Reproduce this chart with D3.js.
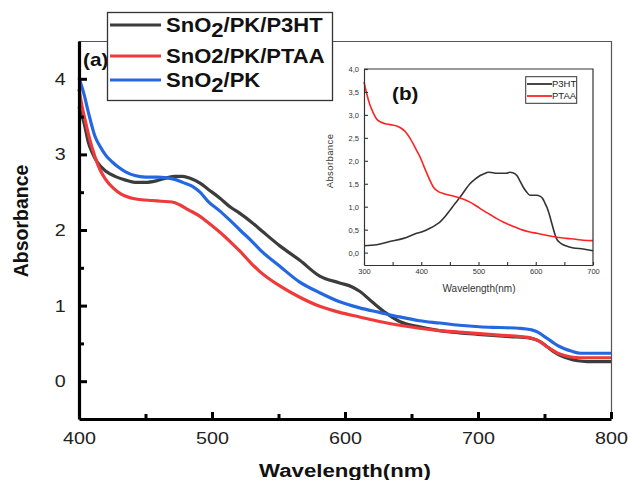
<!DOCTYPE html>
<html>
<head>
<meta charset="utf-8">
<script src="https://cdn.jsdelivr.net/npm/d3@7"></script>
<style>
  html, body { margin: 0; padding: 0; background: #fff; }
  svg { display: block; }
  text { font-family: "Liberation Sans", Arial, sans-serif; }
</style>
</head>
<body>
<svg id="chart" width="628" height="480"></svg>
<script>
// ---- main panel (a): absorbance of the three film stacks ----
const p3htWl = [400,404,407,410,414,420,427,435,442,450,458,466,472,478,484,491,497,506,514,521,530,538,551,566,581,596,605,611,621,631,641,656,671,686,700,724,739,746,751,756,762,768,775,782,800];
const p3htAbs = [3.63,3.40,3.16,3.02,2.89,2.78,2.71,2.66,2.63,2.63,2.65,2.69,2.71,2.71,2.68,2.62,2.54,2.42,2.30,2.22,2.10,1.98,1.79,1.60,1.39,1.30,1.25,1.19,1.04,0.90,0.79,0.72,0.67,0.64,0.62,0.59,0.57,0.53,0.47,0.40,0.34,0.30,0.27,0.26,0.26];

const ptaaWl = [400,402,404.5,408,412,416,420,426,432,440,447,455,462,470,476,482,491,497,506,514,521,530,536,551,566,581,596,611,626,641,656,671,686,701,716,732,740,745,750,755,760,765,770,777,800];
const ptaaAbs = [3.87,3.66,3.46,3.20,2.97,2.79,2.67,2.55,2.47,2.42,2.40,2.39,2.38,2.37,2.33,2.27,2.18,2.10,1.97,1.84,1.72,1.55,1.45,1.26,1.11,0.99,0.91,0.85,0.79,0.74,0.70,0.67,0.65,0.63,0.61,0.59,0.57,0.54,0.48,0.42,0.37,0.34,0.32,0.31,0.31];

const pkWl = [400,404,407,412,416,420,425,429,435,442,450,459,466,472,478,485,491,497,506,514,521,530,536,551,566,581,596,611,626,641,656,671,686,701,716,732,740,745,750,755,760,765,770,777,800];
const pkAbs = [4.01,3.78,3.56,3.24,3.10,2.99,2.90,2.84,2.77,2.72,2.70,2.70,2.69,2.67,2.63,2.58,2.50,2.38,2.25,2.12,2.00,1.85,1.74,1.52,1.31,1.17,1.05,0.97,0.91,0.85,0.80,0.77,0.74,0.72,0.71,0.70,0.68,0.65,0.59,0.53,0.47,0.43,0.40,0.37,0.37];

const mainXTicks = [400,500,600,700,800];
const mainXMinor = [450,550,650,750];
const mainYTicks = [0,1,2,3,4];
const mainYMinor = [0.5,1.5,2.5,3.5];

// ---- inset (b): bare hole-transport layers ----
const insetPtaaWl = [300,305,310,316,322,330,340,350,357,365,372,380,386,392,398,404,410,416,421,430,438,450,462,474,485,497,508,520,532,544,555,567,578,590,602,614,625,640,654,670,683,700];
const insetPtaaAbs = [3.72,3.45,3.23,3.05,2.91,2.84,2.80,2.78,2.76,2.71,2.64,2.50,2.37,2.22,2.08,1.90,1.72,1.55,1.43,1.33,1.29,1.25,1.21,1.16,1.10,1.01,0.92,0.83,0.74,0.66,0.60,0.54,0.49,0.45,0.42,0.39,0.36,0.33,0.31,0.29,0.27,0.26];

const insetP3htWl = [300,322,345,369,392,405,415,425,433,442,450,459,468,477,485,494,503,510,517,525,532,541,549,555,560,567,572,578,584,590,596,602,607,612,616,620,624,628,632,636,642,648,657,666,683,700];
const insetP3htAbs = [0.15,0.17,0.24,0.31,0.42,0.47,0.53,0.60,0.67,0.79,0.92,1.07,1.21,1.37,1.50,1.60,1.68,1.72,1.75,1.74,1.73,1.73,1.73,1.75,1.74,1.68,1.57,1.43,1.32,1.25,1.25,1.25,1.23,1.18,1.08,0.97,0.82,0.64,0.46,0.31,0.22,0.17,0.13,0.10,0.08,0.04];

const insetXTicks = [300,400,500,600,700];
const insetXMinor = [350,450,550,650];
const insetYTicks = [0,0.5,1,1.5,2,2.5,3,3.5,4];

const mainSeries = [
  { name: "SnO2/PK/P3HT", wl: p3htWl, abs: p3htAbs, color: "#3c3c3c" },
  { name: "SnO2/PK/PTAA", wl: ptaaWl, abs: ptaaAbs, color: "#ee3a3a" },
  { name: "SnO2/PK",      wl: pkWl,   abs: pkAbs,   color: "#2368e0" }
];
const insetSeries = [
  { name: "P3HT", wl: insetP3htWl, abs: insetP3htAbs, color: "#333333" },
  { name: "PTAA", wl: insetPtaaWl, abs: insetPtaaAbs, color: "#ff2222" }
];

const svg = d3.select("#chart");
const STRETCH = 1.16;

// main scales
const x = d3.scaleLinear().domain([400, 800]).range([79, 611]);
const y = d3.scaleLinear().domain([-0.5, 4.5]).range([419, 41]);

// thin top and right frame
svg.append("path")
  .attr("d", `M${x(400)},${y(4.5) + 0.5}H${x(800) + 0.5}V${y(-0.5)}`)
  .attr("fill", "none").attr("stroke", "#555").attr("stroke-width", 1.2);

// series
const line = d3.line().curve(d3.curveMonotoneX);
mainSeries.forEach(s => {
  svg.append("path")
    .attr("d", line(s.wl.map((w, i) => [x(w), y(s.abs[i])])))
    .attr("fill", "none")
    .attr("stroke", s.color)
    .attr("stroke-width", 3.2)
    .attr("stroke-linejoin", "round");
});

// axes
const intFmt = d3.format("d");
const gx = svg.append("g").attr("transform", `translate(0,${y(-0.5)})`)
  .call(d3.axisBottom(x).tickValues(mainXTicks).tickFormat(intFmt)
    .tickSizeInner(-7).tickSizeOuter(0).tickPadding(12.5));
svg.append("g").attr("transform", `translate(0,${y(-0.5)})`)
  .call(d3.axisBottom(x).tickValues(mainXMinor).tickSizeInner(-5).tickSizeOuter(0).tickFormat(""))
  .call(g => g.select(".domain").remove());
const gy = svg.append("g").attr("transform", `translate(${x(400)},0)`)
  .call(d3.axisLeft(y).tickValues(mainYTicks).tickFormat(intFmt)
    .tickSizeInner(-8).tickSizeOuter(0).tickPadding(11.5));
svg.append("g").attr("transform", `translate(${x(400)},0)`)
  .call(d3.axisLeft(y).tickValues(mainYMinor).tickSizeInner(-5).tickSizeOuter(0).tickFormat(""))
  .call(g => g.select(".domain").remove());

svg.selectAll(".domain").attr("stroke", "#000").attr("stroke-width", 3.2);
svg.selectAll(".tick line").attr("stroke", "#000").attr("stroke-width", 3);
[gx, gy].forEach(g => g.selectAll("text")
  .attr("font-size", 17).attr("fill", "#222")
  .attr("font-family", "Liberation Sans, Arial, sans-serif")
  .attr("transform", `scale(${STRETCH},1)`));

// axis titles
svg.append("text")
  .attr("transform", `translate(345,477) scale(1.17,1)`)
  .attr("text-anchor", "middle").attr("font-weight", "bold").attr("font-size", 19)
  .attr("fill", "#111").text("Wavelength(nm)");
svg.append("text")
  .attr("transform", `translate(28,221) rotate(-90)`)
  .attr("text-anchor", "middle").attr("font-weight", "bold").attr("font-size", 19.5)
  .attr("fill", "#111").text("Absorbance");

// panel tag
svg.append("text")
  .attr("transform", `translate(83,66) scale(1.15,1)`)
  .attr("font-family", "Liberation Serif, 'Times New Roman', serif")
  .attr("font-weight", "bold").attr("font-size", 18).attr("fill", "#111").text("(a)");

// ---- inset ----
const xi = d3.scaleLinear().domain([300, 700]).range([364, 593]);
const yi = d3.scaleLinear().domain([-0.27, 4.0]).range([265, 69]);

svg.append("rect")
  .attr("x", xi(300)).attr("y", yi(4.0))
  .attr("width", xi(700) - xi(300)).attr("height", yi(-0.27) - yi(4.0))
  .attr("fill", "#fff");

const insetLine = d3.line().curve(d3.curveMonotoneX);
insetSeries.forEach(s => {
  svg.append("path")
    .attr("d", insetLine(s.wl.map((w, i) => [xi(w), yi(s.abs[i])])))
    .attr("fill", "none").attr("stroke", s.color).attr("stroke-width", 1.6);
});

const comma = d => d3.format(".1f")(d).replace(".", ",");
const gxi = svg.append("g").attr("transform", `translate(0,${yi(-0.27)})`)
  .call(d3.axisBottom(xi).tickValues(insetXTicks).tickFormat(intFmt)
    .tickSizeInner(-3).tickSizeOuter(0).tickPadding(4));
const gxiMinor = svg.append("g").attr("transform", `translate(0,${yi(-0.27)})`)
  .call(d3.axisBottom(xi).tickValues(insetXMinor).tickSizeInner(-3).tickSizeOuter(0).tickFormat(""))
  .call(g => g.select(".domain").remove());
const gyi = svg.append("g").attr("transform", `translate(${xi(300)},0)`)
  .call(d3.axisLeft(yi).tickValues(insetYTicks).tickFormat(comma)
    .tickSizeInner(-4).tickSizeOuter(0).tickPadding(5));
[gxi, gxiMinor, gyi].forEach(g => {
  g.selectAll(".tick line").attr("stroke", "#333").attr("stroke-width", 1.1);
  g.selectAll(".domain").attr("stroke", "#333").attr("stroke-width", 1.2);
  g.selectAll("text").attr("font-size", 7.5).attr("fill", "#333")
    .attr("font-family", "Liberation Sans, Arial, sans-serif");
});

// inset frame top/right
svg.append("path")
  .attr("d", `M${xi(300)},${yi(4.0)}H${xi(700)}V${yi(-0.27)}`)
  .attr("fill", "none").attr("stroke", "#333").attr("stroke-width", 1.2);

svg.append("text")
  .attr("transform", `translate(333,161) rotate(-90)`)
  .attr("text-anchor", "middle").attr("font-size", 9.5).attr("letter-spacing", 0.4)
  .attr("fill", "#333").text("Absorbance");
svg.append("text")
  .attr("x", 479).attr("y", 292)
  .attr("text-anchor", "middle").attr("font-size", 10).attr("fill", "#333").text("Wavelength(nm)");

svg.append("text")
  .attr("transform", `translate(392,100) scale(1.15,1)`)
  .attr("font-family", "Liberation Serif, 'Times New Roman', serif")
  .attr("font-weight", "bold").attr("font-size", 18).attr("fill", "#111").text("(b)");

// inset legend
const il = svg.append("g");
il.append("rect").attr("x", 525.7).attr("y", 76.7).attr("width", 51).attr("height", 26.6)
  .attr("fill", "#fff").attr("stroke", "#333").attr("stroke-width", 1);
insetSeries.forEach((s, i) => {
  const yy = 84 + i * 12;
  il.append("line").attr("x1", 527).attr("x2", 552).attr("y1", yy).attr("y2", yy)
    .attr("stroke", s.color).attr("stroke-width", 1.8);
  il.append("text").attr("x", 552).attr("y", yy + 3.4).attr("font-size", 9.5)
    .attr("fill", "#222").text(s.name);
});

// ---- main legend ----
const lg = svg.append("g");
lg.append("rect").attr("x", 107.5).attr("y", 12.5).attr("width", 225).attr("height", 88)
  .attr("fill", "#fff").attr("stroke", "#333").attr("stroke-width", 1.3);
const legendRows = [
  { s: mainSeries[0], y: 25, parts: ["SnO", "2", "/PK/P3HT"] },
  { s: mainSeries[1], y: 56, parts: ["SnO2/PK/PTAA"] },
  { s: mainSeries[2], y: 80, parts: ["SnO", "2", "/PK"] }
];
legendRows.forEach(r => {
  lg.append("line").attr("x1", 110).attr("x2", 161).attr("y1", r.y).attr("y2", r.y)
    .attr("stroke", r.s.color).attr("stroke-width", 3.2);
  const t = lg.append("text")
    .attr("transform", `translate(166,${r.y + 7}) scale(1.13,1)`)
    .attr("font-weight", "bold").attr("font-size", 19.5).attr("fill", "#111");
  if (r.parts.length === 1) {
    t.text(r.parts[0]);
  } else {
    t.append("tspan").text(r.parts[0]);
    t.append("tspan").attr("dy", 5).text(r.parts[1]);
    t.append("tspan").attr("dy", -5).text(r.parts[2]);
  }
});
</script>
</body>
</html>
